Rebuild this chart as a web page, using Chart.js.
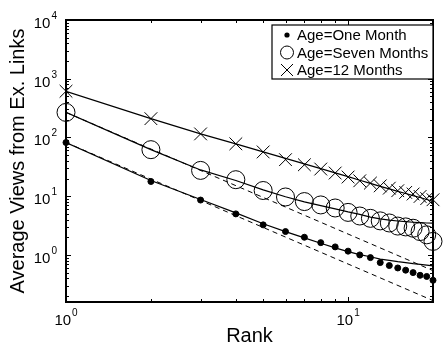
<!DOCTYPE html>
<html><head><meta charset="utf-8">
<script src="https://cdn.jsdelivr.net/npm/chart.js@4.4.0/dist/chart.umd.min.js"></script>
<style>html,body{margin:0;padding:0;background:#fff;}#c{display:block;}</style>
</head><body>
<canvas id="c" width="443" height="345"></canvas>
<script>
// ---- data ----
const ranks = [1,2,3,4,5,6,7,8,9,10,11,12,13,14,15,16,17,18,19,20];
const seriesLabels = ['Age=One Month','Age=Seven Months','Age=12 Months'];
const oneMonth = [82,17.8,8.6,5.0,3.25,2.5,2.0,1.62,1.37,1.16,1.0,0.90,0.74,0.66,0.60,0.55,0.50,0.45,0.43,0.37];
const sevenMonths = [267,62,27.5,19.1,12.5,9.7,8.1,7.1,6.3,5.3,4.6,4.2,3.8,3.5,3.1,3.0,2.85,2.5,2.2,1.7];
const twelveMonths = [612,209,115,78,56.7,41.9,34.3,29,24.8,21.2,18.3,16.7,15,13.7,12.4,11.6,10.9,9.9,9.1,8.7];
// fitted curves (solid)
const fitOne = [82,18.5,8.8,5.2,3.4,2.5,1.95,1.58,1.32,1.14,1.01,0.93,0.85,0.81,0.77,0.74,0.71,0.69,0.67,0.65];
const fitSeven = [267,62,28,18.5,12.8,9.8,8.0,6.9,6.1,5.4,4.9,4.4,4.1,3.9,3.78,3.68,3.6,3.54,3.5,3.47];
const fitTwelve = [612,209,115,78,57,44,35.5,29.5,25,21.5,18.7,16.5,14.7,13.3,12.1,11.1,10.2,9.5,8.8,8.2];
// power-law references (dashed), end points
const dashRanks = [1,20];
const dashOne = [82,0.167];
const dashSeven = [267,0.54];
// axes
const xMin = 1, xMax = 20, yMin = 0.158, yMax = 10000;
const xMajorTicks = [1,10];
const xTickExp = ['0','1'];
const xMinorTicks = [2,3,4,5,6,7,8,9,20];
const yMajorTicks = [1,10,100,1000,10000];
const yTickExp = ['0','1','2','3','4'];
const yMinorTicks = [0.2,0.3,0.4,0.5,0.6,0.7,0.8,0.9,2,3,4,5,6,7,8,9,20,30,40,50,60,70,80,90,200,300,400,500,600,700,800,900,2000,3000,4000,5000,6000,7000,8000,9000];
const xTitle = 'Rank';
const yTitle = 'Average Views from Ex. Links';

const FONT = '"Liberation Sans", Arial, Helvetica, sans-serif';
function pts(xs, ys){ return xs.map((x,i)=>({x:x, y:ys[i]})); }

const lineDs = (data, dash) => ({data, showLine:true, pointRadius:0, borderColor:'#000', borderWidth: dash?1:1.2, borderDash: dash?[5,4]:[], fill:false, tension:0});

const framePlugin = {
  id:'frame',
  afterDraw(chart){
    const ctx = chart.ctx, a = chart.chartArea, xs = chart.scales.x, ys = chart.scales.y;
    ctx.save();
    ctx.strokeStyle = '#000';
    // ticks
    ctx.lineWidth = 1;
    const tick = (v, len, isX) => {
      ctx.beginPath();
      if (isX) {
        const p = Math.round(xs.getPixelForValue(v)) + 0.5;
        ctx.moveTo(p, a.bottom); ctx.lineTo(p, a.bottom - len);
        ctx.moveTo(p, a.top); ctx.lineTo(p, a.top + len);
      } else {
        const p = Math.round(ys.getPixelForValue(v)) + 0.5;
        ctx.moveTo(a.left, p); ctx.lineTo(a.left + len, p);
        ctx.moveTo(a.right, p); ctx.lineTo(a.right - len, p);
      }
      ctx.stroke();
    };
    xMajorTicks.forEach(v=>tick(v,5,true));
    xMinorTicks.forEach(v=>tick(v,3,true));
    yMajorTicks.forEach(v=>tick(v,5,false));
    yMinorTicks.forEach(v=>tick(v,3,false));
    // frame
    ctx.lineWidth = 2;
    ctx.strokeRect(a.left, a.top, a.right - a.left, a.bottom - a.top);
    // tick labels
    ctx.fillStyle = '#000';
    ctx.textAlign = 'left';
    ctx.textBaseline = 'alphabetic';
    xMajorTicks.forEach((v,i)=>{
      ctx.font = '15px ' + FONT; const w1 = ctx.measureText('10').width;
      ctx.font = '10px ' + FONT; const w2 = ctx.measureText(xTickExp[i]).width;
      const px = xs.getPixelForValue(v), x0 = px - (w1 + w2 + 1)/2;
      ctx.font = '15px ' + FONT; ctx.fillText('10', x0, a.bottom + 23);
      ctx.font = '10px ' + FONT; ctx.fillText(xTickExp[i], x0 + w1 + 1, a.bottom + 14);
    });
    yMajorTicks.forEach((v,i)=>{
      ctx.font = '15px ' + FONT; const w1 = ctx.measureText('10').width;
      ctx.font = '10px ' + FONT; const w2 = ctx.measureText(yTickExp[i]).width;
      const py = ys.getPixelForValue(v), x0 = a.left - 9 - (w1 + w2 + 1);
      ctx.font = '15px ' + FONT; ctx.fillText('10', x0, py + 8);
      ctx.font = '10px ' + FONT; ctx.fillText(yTickExp[i], x0 + w1 + 1, py - 1);
    });
    // axis titles
    ctx.font = '20px ' + FONT;
    ctx.textAlign = 'center';
    ctx.fillText(xTitle, (a.left + a.right)/2, a.bottom + 40);
    ctx.save();
    ctx.translate(24, (a.top + a.bottom)/2);
    ctx.rotate(-Math.PI/2);
    ctx.fillText(yTitle, 0, 0);
    ctx.restore();
    // legend
    const lx = 272, ly = 25, lw = 161, lh = 54;
    ctx.fillStyle = '#fff';
    ctx.fillRect(lx, ly, lw, lh);
    ctx.lineWidth = 1.2;
    ctx.strokeRect(lx, ly, lw, lh);
    ctx.fillStyle = '#000';
    ctx.font = '15px ' + FONT;
    ctx.textAlign = 'left';
    ctx.textBaseline = 'middle';
    const rows = [35, 52.5, 70];
    const sx = 287;
    seriesLabels.forEach((lab,i)=>{
      const y = rows[i];
      ctx.lineWidth = 1;
      ctx.beginPath();
      if (i === 0) { ctx.arc(sx, y, 2.6, 0, Math.PI*2); ctx.fill(); }
      else if (i === 1) { ctx.arc(sx, y, 6.5, 0, Math.PI*2); ctx.stroke(); }
      else { ctx.moveTo(sx-6, y-6); ctx.lineTo(sx+6, y+6); ctx.moveTo(sx+6, y-6); ctx.lineTo(sx-6, y+6); ctx.stroke(); }
      ctx.fillText(lab, 297, y + 1);
    });
    ctx.restore();
  }
};

new Chart(document.getElementById('c'), {
  type: 'scatter',
  data: {
    datasets: [
      lineDs(pts(ranks, fitOne), false),
      lineDs(pts(dashRanks, dashOne), true),
      lineDs(pts(ranks, fitSeven), false),
      lineDs(pts(dashRanks, dashSeven), true),
      lineDs(pts(ranks, fitTwelve), false),
      {label: seriesLabels[0], data: pts(ranks, oneMonth), pointStyle:'circle', pointRadius:3, backgroundColor:'#000', borderColor:'#000', borderWidth:1, clip:false},
      {label: seriesLabels[1], data: pts(ranks, sevenMonths), pointStyle:'circle', pointRadius:9, backgroundColor:'rgba(0,0,0,0)', borderColor:'#000', borderWidth:1, clip:false},
      {label: seriesLabels[2], data: pts(ranks, twelveMonths), pointStyle:'crossRot', pointRadius:9, borderColor:'#000', borderWidth:1, clip:false}
    ]
  },
  options: {
    responsive: false,
    animation: false,
    events: [],
    layout: { padding: { left: 66, right: 8, top: 20, bottom: 43 } },
    plugins: { legend: { display: false }, tooltip: { enabled: false }, title: { display: false } },
    scales: {
      x: { type: 'logarithmic', min: xMin, max: xMax, display: false },
      y: { type: 'logarithmic', min: yMin, max: yMax, display: false }
    }
  },
  plugins: [framePlugin]
});
</script>
</body></html>
